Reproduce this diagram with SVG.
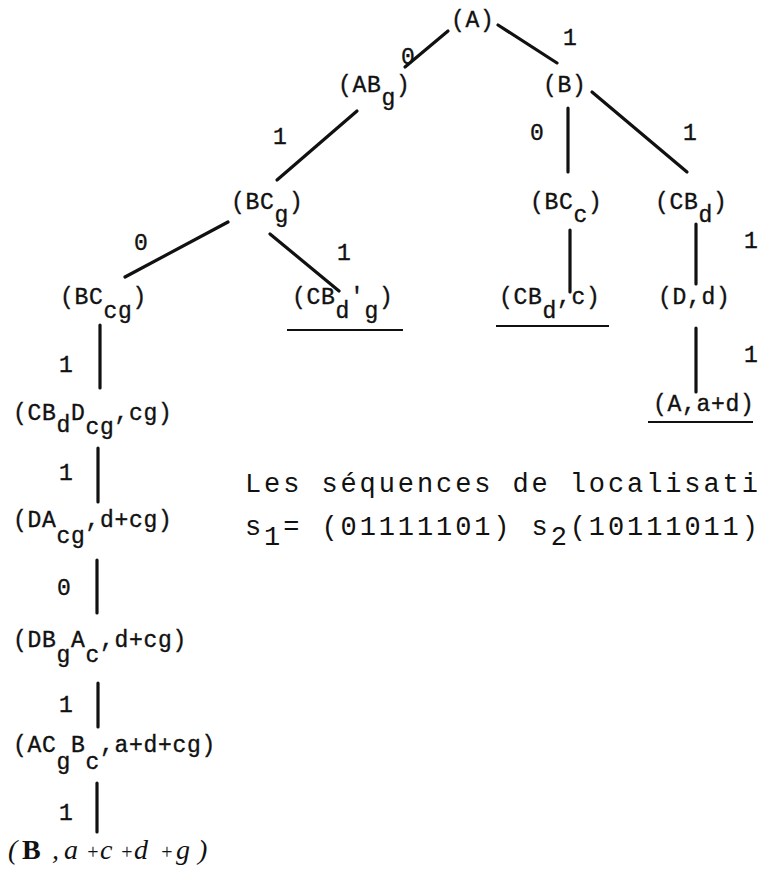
<svg xmlns="http://www.w3.org/2000/svg" width="761" height="872" viewBox="0 0 761 872">
<style>
.t{font-family:"Liberation Mono","DejaVu Sans Mono",monospace;font-size:23px;letter-spacing:0.7px;fill:#111;stroke:#111;stroke-width:0.35}
.m{font-family:"Liberation Mono","DejaVu Sans Mono",monospace;font-size:27px;letter-spacing:2.9px;fill:#111}
.h{font-family:"Liberation Serif","DejaVu Serif",serif;font-style:italic;font-size:28px;fill:#111}
.p{font-size:20px}
.e{stroke:#111;stroke-width:3.2;stroke-linecap:round;fill:none}
.u{stroke:#111;stroke-width:2;fill:none}
</style>
<rect width="761" height="872" fill="#fff"/>
<g id="connectors">
<line class="e" x1="448" y1="31" x2="405" y2="67"/>
<line class="e" x1="498" y1="25" x2="557" y2="63"/>
<line class="e" x1="357" y1="111" x2="277" y2="180"/>
<line class="e" x1="568" y1="108" x2="568" y2="172"/>
<line class="e" x1="592" y1="92" x2="687" y2="172"/>
<line class="e" x1="228" y1="222" x2="125" y2="277"/>
<line class="e" x1="270" y1="234" x2="339" y2="291"/>
<line class="e" x1="570" y1="230" x2="570" y2="292"/>
<line class="e" x1="696" y1="224" x2="696" y2="284"/>
<line class="e" x1="696" y1="328" x2="696" y2="392"/>
<line class="e" x1="100" y1="325" x2="100" y2="388"/>
<line class="e" x1="98" y1="448" x2="98" y2="502"/>
<line class="e" x1="97" y1="560" x2="97" y2="613"/>
<line class="e" x1="98" y1="683" x2="98" y2="727"/>
<line class="e" x1="97" y1="783" x2="97" y2="832"/>
</g>
<g id="edge-labels" class="t">
<text x="401" y="64">0</text>
<text x="563" y="45">1</text>
<text x="273" y="144">1</text>
<text x="530" y="140">0</text>
<text x="683" y="140">1</text>
<text x="134" y="250">0</text>
<text x="337" y="260">1</text>
<text x="744" y="248">1</text>
<text x="744" y="362">1</text>
<text x="59" y="372">1</text>
<text x="59" y="480">1</text>
<text x="57" y="595">0</text>
<text x="59" y="712">1</text>
<text x="59" y="820">1</text>
</g>
<g id="n_A"><text class="t" x="451" y="27">(A)</text></g>
<g id="n_ABg"><text class="t" x="338" y="92">(AB<tspan dy="13">g</tspan><tspan dy="-13">)</tspan></text></g>
<g id="n_B"><text class="t" x="543" y="92">(B)</text></g>
<g id="n_BCg"><text class="t" x="231" y="209">(BC<tspan dy="13">g</tspan><tspan dy="-13">)</tspan></text></g>
<g id="n_BCc"><text class="t" x="530" y="209">(BC<tspan dy="13">c</tspan><tspan dy="-13">)</tspan></text></g>
<g id="n_CBd"><text class="t" x="655" y="209">(CB<tspan dy="13">d</tspan><tspan dy="-13">)</tspan></text></g>
<g id="n_BCcg"><text class="t" x="60" y="304">(BC<tspan dy="14">cg</tspan><tspan dy="-14">)</tspan></text></g>
<g id="n_CBdg"><text class="t" x="292" y="304">(CB<tspan dy="14">d</tspan><tspan dy="-14">'</tspan><tspan dy="14">g</tspan><tspan dy="-14">)</tspan></text><line class="u" x1="287" y1="330" x2="403" y2="330"/></g>
<g id="n_CBdc"><text class="t" x="499" y="304">(CB<tspan dy="14">d</tspan><tspan dy="-14">,c)</tspan></text><line class="u" x1="496" y1="326" x2="609" y2="326"/></g>
<g id="n_Dd"><text class="t" x="658" y="304">(D,d)</text></g>
<g id="n_Aad"><text class="t" x="653" y="411">(A,a+d)</text><line class="u" x1="648" y1="422" x2="753" y2="422"/></g>
<g id="n_CBdDcg"><text class="t" x="13" y="420">(CB<tspan dy="12">d</tspan><tspan dy="-12">D</tspan><tspan dy="14">cg</tspan><tspan dy="-14">,cg)</tspan></text></g>
<g id="n_DAcg"><text class="t" x="13" y="527">(DA<tspan dy="16">cg</tspan><tspan dy="-16">,d+cg)</tspan></text></g>
<g id="n_DBgAc"><text class="t" x="13" y="647">(DB<tspan dy="15">g</tspan><tspan dy="-15">A</tspan><tspan dy="15">c</tspan><tspan dy="-15">,d+cg)</tspan></text></g>
<g id="n_ACgBc"><text class="t" x="13" y="752">(AC<tspan dy="17">g</tspan><tspan dy="-17">B</tspan><tspan dy="17">c</tspan><tspan dy="-17">,a+d+cg)</tspan></text></g>
<g id="n_final"><text class="h" y="859" x="8 22 52 64 86 100 120 134 160 176 198">(<tspan font-weight="bold" font-style="normal">B</tspan>,a<tspan class="p">+</tspan>c<tspan class="p">+</tspan>d<tspan class="p">+</tspan>g)</text></g>
<g id="caption" class="m">
<text x="245" y="492">Les séquences de localisati</text>
<text x="245" y="535">s<tspan dy="10">1</tspan><tspan dy="-10">= (01111101) s</tspan><tspan dy="10">2</tspan><tspan dy="-10">(10111011)</tspan></text>
</g>
</svg>
